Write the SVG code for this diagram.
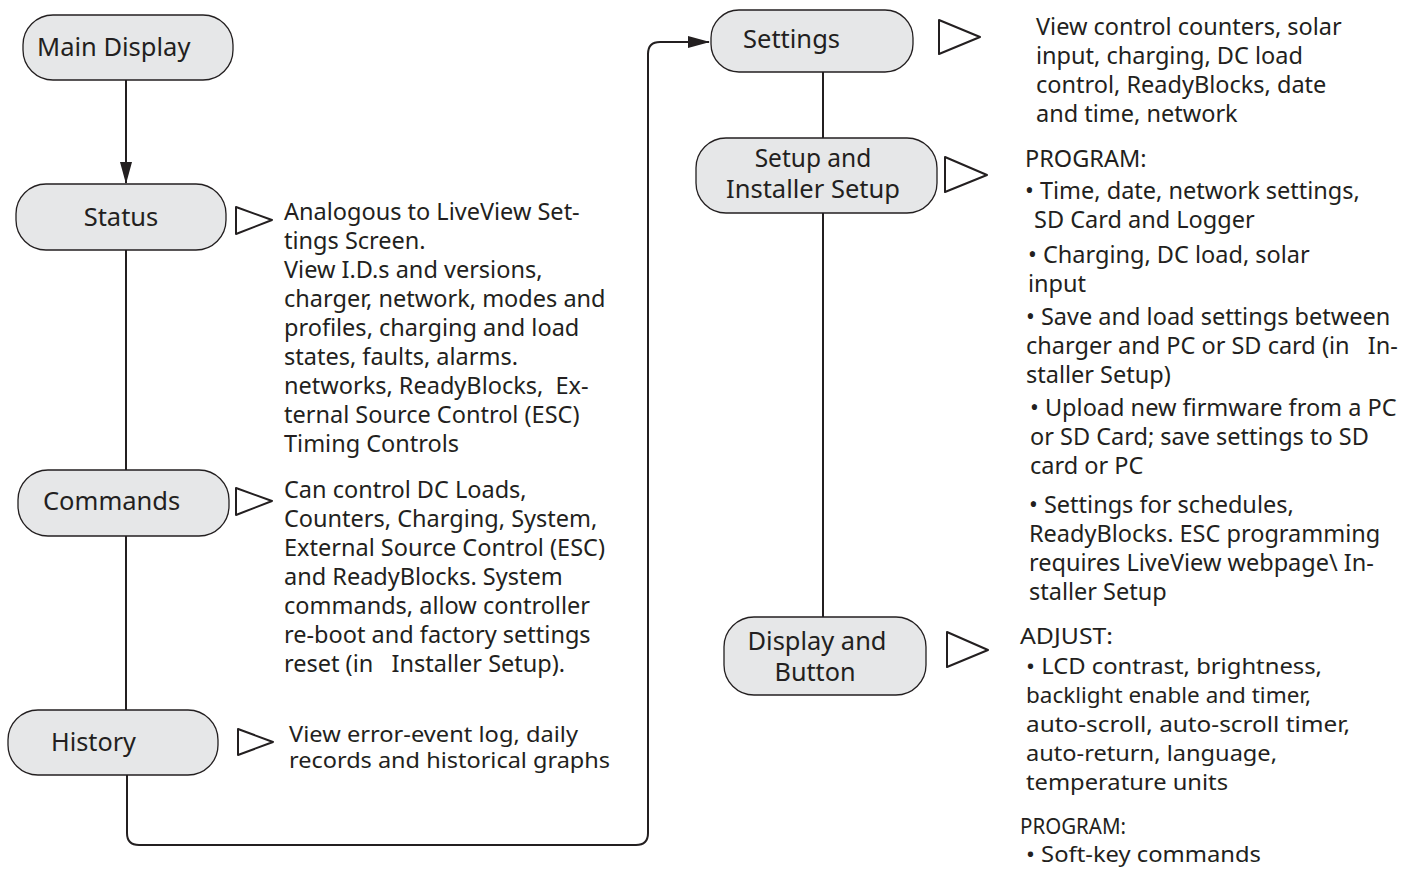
<svg xmlns="http://www.w3.org/2000/svg" width="1403" height="869" viewBox="0 0 1403 869">
<style>
.node{fill:#e6e7e8;stroke:#231f20;stroke-width:1.3}
.lbl{font-family:"Noto Sans","Open Sans",sans-serif;font-size:25.5px;fill:#231f20}
.lbl2{font-family:"Noto Sans","Open Sans",sans-serif;font-size:24.5px;fill:#231f20}
.txt{font-family:"Noto Sans","Open Sans",sans-serif;font-size:23.5px;fill:#231f20}
.cnd{font-family:"Noto Sans","Open Sans",sans-serif;font-size:22.5px;fill:#231f20}
.cnds{font-family:"Noto Sans","Open Sans",sans-serif;font-size:21px;fill:#231f20}
.tri{fill:#fff;stroke:#231f20;stroke-width:2;stroke-linejoin:round}
.con{fill:none;stroke:#231f20;stroke-width:2}
</style>
<defs>
<marker id="arr" markerWidth="22" markerHeight="12" refX="21" refY="6" orient="auto" markerUnits="userSpaceOnUse">
<path d="M0,0 L22,6 L0,12 Z" fill="#231f20"/>
</marker>
</defs>
<rect width="1403" height="869" fill="#fff"/>
<g id="connectors">
<line class="con" x1="126" y1="80" x2="126" y2="183" marker-end="url(#arr)"/>
<line class="con" x1="126" y1="250" x2="126" y2="710"/>
<path class="con" d="M127,775 V833 Q127,845 139,845 H636 Q648,845 648,833 V54 Q648,42 660,42 H709" marker-end="url(#arr)"/>
<line class="con" x1="823" y1="72" x2="823" y2="138"/>
<line class="con" x1="823" y1="213" x2="823" y2="617"/>
</g>
<g id="main-display">
<rect class="node" x="23" y="15" width="210" height="65" rx="30"/>
<text class="lbl" x="37" y="56">Main Display</text>
</g>
<g id="status">
<rect class="node" x="16" y="184" width="210" height="66" rx="30"/>
<text class="lbl" x="121" y="226" text-anchor="middle">Status</text>
<path class="tri" d="M236,207 L272,220 L236,234 Z"/>
<text class="txt" x="284" y="220">Analogous to LiveView Set-</text>
<text class="txt" x="284" y="249">tings Screen.</text>
<text class="txt" x="284" y="278">View I.D.s and versions,</text>
<text class="txt" x="284" y="307">charger, network, modes and</text>
<text class="txt" x="284" y="336">profiles, charging and load</text>
<text class="txt" x="284" y="365">states, faults, alarms.</text>
<text class="txt" x="284" y="394" xml:space="preserve">networks, ReadyBlocks,  Ex-</text>
<text class="txt" x="284" y="423">ternal Source Control (ESC)</text>
<text class="txt" x="284" y="452">Timing Controls</text>
</g>
<g id="commands">
<rect class="node" x="18" y="470" width="211" height="66" rx="30"/>
<text class="lbl" x="43" y="510">Commands</text>
<path class="tri" d="M236,488 L272,501 L236,515 Z"/>
<text class="txt" x="284" y="498">Can control DC Loads,</text>
<text class="txt" x="284" y="527">Counters, Charging, System,</text>
<text class="txt" x="284" y="556">External Source Control (ESC)</text>
<text class="txt" x="284" y="585">and ReadyBlocks. System</text>
<text class="txt" x="284" y="614">commands, allow controller</text>
<text class="txt" x="284" y="643">re-boot and factory settings</text>
<text class="txt" x="284" y="672" xml:space="preserve">reset (in   Installer Setup).</text>
</g>
<g id="history">
<rect class="node" x="8" y="710" width="210" height="65" rx="30"/>
<text class="lbl" x="51" y="751" textLength="85" lengthAdjust="spacingAndGlyphs">History</text>
<path class="tri" d="M238,729 L273,742 L238,755 Z"/>
<text class="cnds" x="289" y="742" textLength="289" lengthAdjust="spacingAndGlyphs">View error-event log, daily</text>
<text class="cnds" x="289" y="768" textLength="321" lengthAdjust="spacingAndGlyphs">records and historical graphs</text>
</g>
<g id="settings">
<rect class="node" x="711" y="10" width="202" height="62" rx="28"/>
<text class="lbl" x="743" y="48">Settings</text>
<path class="tri" d="M939,20 L980,37 L939,54 Z"/>
<text class="txt" x="1036" y="35">View control counters, solar</text>
<text class="txt" x="1036" y="64">input, charging, DC load</text>
<text class="txt" x="1036" y="93">control, ReadyBlocks, date</text>
<text class="txt" x="1036" y="122">and time, network</text>
</g>
<g id="setup">
<rect class="node" x="696" y="138" width="241" height="75" rx="30"/>
<text class="lbl2" x="813" y="167" text-anchor="middle">Setup and</text>
<text class="lbl2" x="813" y="198" text-anchor="middle" textLength="174" lengthAdjust="spacingAndGlyphs">Installer Setup</text>
<path class="tri" d="M945,157 L987,175 L945,192 Z"/>
<text class="txt" x="1025" y="167">PROGRAM:</text>
<text class="txt" x="1025" y="199">• Time, date, network settings,</text>
<text class="txt" x="1034" y="228">SD Card and Logger</text>
<text class="txt" x="1028" y="263">• Charging, DC load, solar</text>
<text class="txt" x="1028" y="292">input</text>
<text class="txt" x="1026" y="325">• Save and load settings between</text>
<text class="txt" x="1026" y="354" xml:space="preserve">charger and PC or SD card (in   In-</text>
<text class="txt" x="1026" y="383">staller Setup)</text>
<text class="txt" x="1030" y="416">• Upload new firmware from a PC</text>
<text class="txt" x="1030" y="445">or SD Card; save settings to SD</text>
<text class="txt" x="1030" y="474">card or PC</text>
<text class="txt" x="1029" y="513">• Settings for schedules,</text>
<text class="txt" x="1029" y="542">ReadyBlocks. ESC programming</text>
<text class="txt" x="1029" y="571">requires LiveView webpage\ In-</text>
<text class="txt" x="1029" y="600">staller Setup</text>
</g>
<g id="display-button">
<rect class="node" x="724" y="617" width="202" height="78" rx="30"/>
<text class="lbl2" x="817" y="650" text-anchor="middle" textLength="139" lengthAdjust="spacingAndGlyphs">Display and</text>
<text class="lbl2" x="815" y="681" text-anchor="middle" textLength="81" lengthAdjust="spacingAndGlyphs">Button</text>
<path class="tri" d="M947,632 L988,650 L947,667 Z"/>
<text class="cnd" x="1020" y="644" textLength="93" lengthAdjust="spacingAndGlyphs">ADJUST:</text>
<text class="cnd" x="1026" y="674" textLength="296" lengthAdjust="spacingAndGlyphs">• LCD contrast, brightness,</text>
<text class="cnd" x="1026" y="703" textLength="285" lengthAdjust="spacingAndGlyphs">backlight enable and timer,</text>
<text class="cnd" x="1026" y="732" textLength="324" lengthAdjust="spacingAndGlyphs">auto-scroll, auto-scroll timer,</text>
<text class="cnd" x="1026" y="761" textLength="251" lengthAdjust="spacingAndGlyphs">auto-return, language,</text>
<text class="cnd" x="1026" y="790" textLength="202" lengthAdjust="spacingAndGlyphs">temperature units</text>
<text class="cnds" x="1020" y="834" textLength="106" lengthAdjust="spacingAndGlyphs">PROGRAM:</text>
<text class="cnds" x="1026" y="862" textLength="235" lengthAdjust="spacingAndGlyphs">• Soft-key commands</text>
</g>
</svg>
